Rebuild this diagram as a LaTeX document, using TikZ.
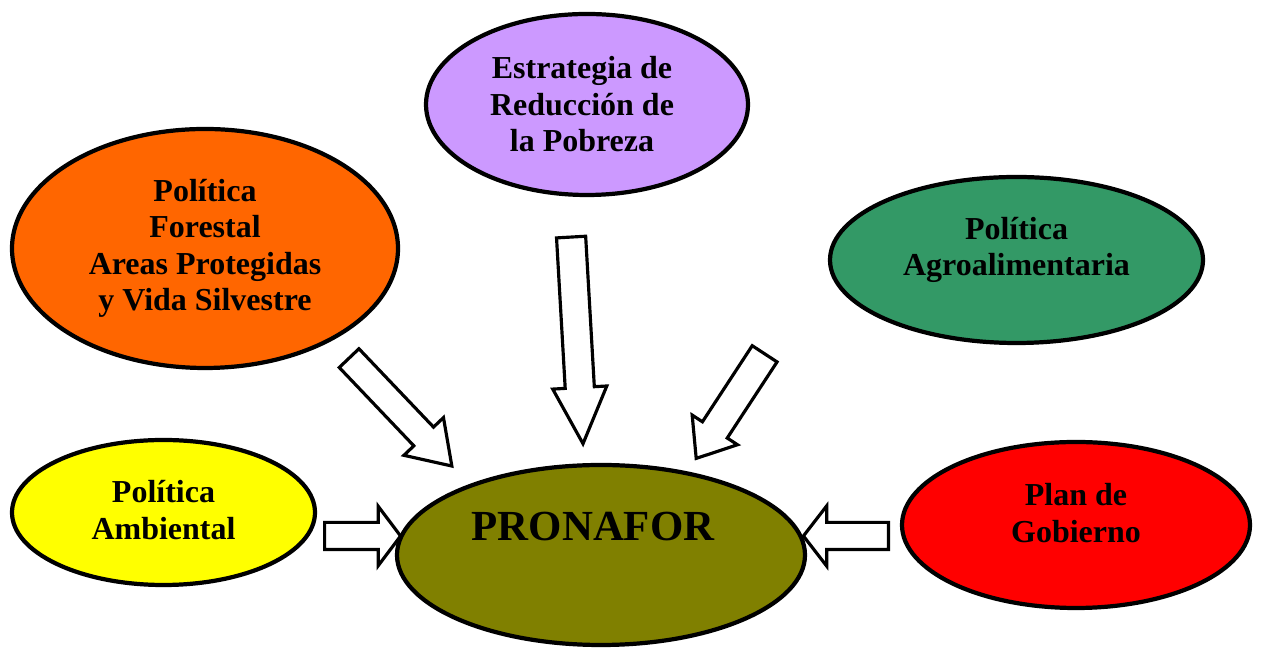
\documentclass[tikz,border=0pt]{standalone}
\usepackage{fontspec}
\setmainfont{Liberation Serif}
\usetikzlibrary{shapes.geometric,shapes.arrows,backgrounds}

\definecolor{lila}{HTML}{CC99FF}
\definecolor{naranja}{HTML}{FF6600}
\definecolor{verde}{HTML}{339966}
\definecolor{amarillo}{HTML}{FFFF00}
\definecolor{oliva}{HTML}{808000}
\definecolor{rojo}{HTML}{FF0000}

\tikzset{
  elipse/.style={ellipse, draw=black, line width=2.4pt, inner sep=0pt},
  texto/.style={align=center, inner sep=0pt, font=\fontsize{18.2}{20.8}\selectfont\bfseries},
  flecha/.style={single arrow, draw=black, fill=white, line width=1.8pt, inner xsep=0pt,
    anchor=tail, single arrow head indent=0pt}
}

\begin{document}
\begin{tikzpicture}

        \useasboundingbox (0,0) rectangle (25.26,13);

        % elipses
        \node[elipse, fill=lila, minimum width=6.44cm, minimum height=3.62cm] (estrategia) at (11.74,10.91) {};
        \node[elipse, fill=naranja, minimum width=7.72cm, minimum height=4.78cm] (forestal) at (4.10,8.03) {};
        \node[elipse, fill=verde, minimum width=7.46cm, minimum height=3.32cm] (agro) at (20.33,7.80) {};
        \node[elipse, fill=amarillo, minimum width=6.06cm, minimum height=2.90cm] (ambiental) at (3.27,2.75) {};
        \node[elipse, fill=oliva, minimum width=8.16cm, minimum height=3.60cm] (pronafor) at (12.02,1.90) {};
        \node[elipse, fill=rojo, minimum width=6.96cm, minimum height=3.32cm] (plan) at (21.52,2.50) {};

        % textos
        \node[texto] (estrategia-t) at (11.64,10.91) {Estrategia de\\Reducción de\\la Pobreza};
        \node[texto] (forestal-t) at (4.10,8.03) {Política\\Forestal\\Areas Protegidas\\y Vida Silvestre};
        \node[texto] (agro-t) at (20.33,8.00) {Política\\Agroalimentaria};
        \node[texto] (ambiental-t) at (3.27,2.80) {Política\\Ambiental};
        \node[texto, font=\fontsize{24.4}{28}\selectfont\bfseries] (pronafor-t) at (11.86,2.46) {PRONAFOR};
        \node[texto] (plan-t) at (21.52,2.74) {Plan de\\Gobierno};

        % flechas
        \begin{scope}[on background layer]
        \node[flecha, rotate=-46.4, minimum height=2.98cm, inner ysep=0.24cm,
          single arrow head extend=0.275cm, single arrow tip angle=67.6] (f-forestal) at (6.96,5.86) {};
        \node[flecha, rotate=-86.7, minimum height=4.14cm, inner ysep=0.26cm,
          single arrow head extend=0.25cm, single arrow tip angle=51.4] (f-estrategia) at (11.42,8.29) {};
        \node[flecha, rotate=-123.2, minimum height=2.50cm, inner ysep=0.265cm,
          single arrow head extend=0.245cm, single arrow tip angle=77] (f-agro) at (15.31,5.95) {};
        \node[flecha, minimum height=1.52cm, inner ysep=0.24cm,
          single arrow head extend=0.32cm, single arrow tip angle=106] (f-ambiental) at (6.46,2.28) {};
        \node[flecha, rotate=180, minimum height=1.70cm, inner ysep=0.24cm,
          single arrow head extend=0.33cm, single arrow tip angle=104.6] (f-plan) at (17.80,2.28) {};
        \end{scope}

\end{tikzpicture}
\end{document}
